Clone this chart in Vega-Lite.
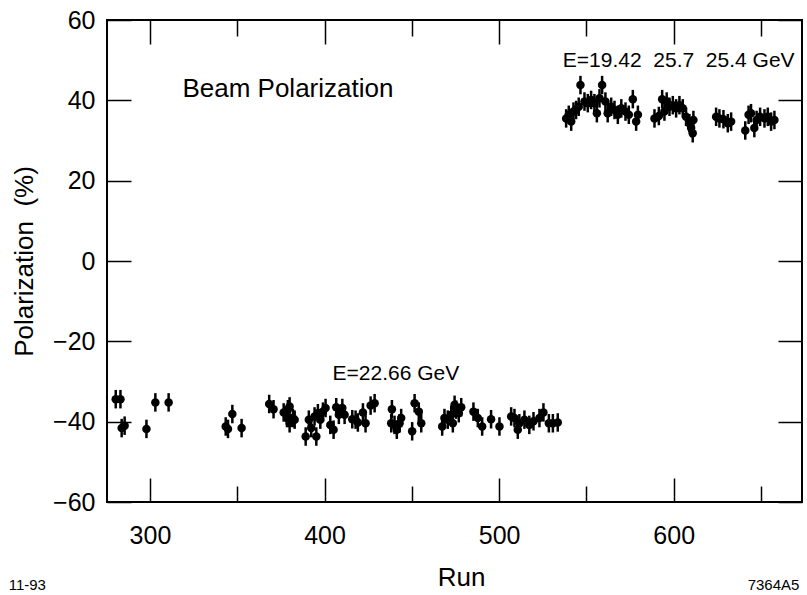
{
  "$schema": "https://vega.github.io/schema/vega-lite/v6.json",
  "width": 695,
  "height": 482,
  "autosize": {"type": "none"},
  "padding": {"left": 107, "top": 20, "right": 5, "bottom": 93},
  "background": "white",
  "config": {
    "view": {"stroke": "black", "strokeWidth": 2},
    "font": "Liberation Sans"
  },
  "datasets": {
    "pts": [
      {"run": 280.4, "pol": -34.4, "err": 2.3},
      {"run": 283.1, "pol": -34.4, "err": 2.3},
      {"run": 283.8, "pol": -41.6, "err": 2.3},
      {"run": 285.5, "pol": -41.0, "err": 2.3},
      {"run": 298.0, "pol": -41.8, "err": 2.3},
      {"run": 303.1, "pol": -35.2, "err": 2.3},
      {"run": 310.7, "pol": -35.2, "err": 2.3},
      {"run": 343.4, "pol": -41.2, "err": 2.3},
      {"run": 344.7, "pol": -41.8, "err": 2.3},
      {"run": 347.2, "pol": -38.1, "err": 2.3},
      {"run": 352.5, "pol": -41.6, "err": 2.3},
      {"run": 368.3, "pol": -35.6, "err": 2.3},
      {"run": 370.8, "pol": -36.9, "err": 2.3},
      {"run": 376.6, "pol": -37.7, "err": 2.3},
      {"run": 379.0, "pol": -36.9, "err": 2.3},
      {"run": 380.0, "pol": -36.2, "err": 2.3},
      {"run": 378.5, "pol": -39.1, "err": 2.3},
      {"run": 380.0, "pol": -40.4, "err": 2.3},
      {"run": 381.9, "pol": -39.1, "err": 2.3},
      {"run": 382.9, "pol": -39.5, "err": 2.3},
      {"run": 389.2, "pol": -43.7, "err": 2.3},
      {"run": 391.0, "pol": -39.5, "err": 2.3},
      {"run": 392.4, "pol": -41.6, "err": 2.3},
      {"run": 394.3, "pol": -38.7, "err": 2.3},
      {"run": 395.3, "pol": -43.7, "err": 2.3},
      {"run": 396.2, "pol": -37.9, "err": 2.3},
      {"run": 397.6, "pol": -39.5, "err": 2.3},
      {"run": 399.1, "pol": -37.5, "err": 2.3},
      {"run": 400.6, "pol": -36.6, "err": 2.3},
      {"run": 403.3, "pol": -40.8, "err": 2.3},
      {"run": 405.2, "pol": -42.0, "err": 2.3},
      {"run": 406.7, "pol": -36.4, "err": 2.3},
      {"run": 408.2, "pol": -38.3, "err": 2.3},
      {"run": 410.2, "pol": -36.6, "err": 2.3},
      {"run": 411.5, "pol": -38.3, "err": 2.3},
      {"run": 415.9, "pol": -39.4, "err": 2.3},
      {"run": 417.8, "pol": -39.5, "err": 2.3},
      {"run": 419.1, "pol": -40.2, "err": 2.3},
      {"run": 422.0, "pol": -37.7, "err": 2.3},
      {"run": 423.5, "pol": -40.4, "err": 2.3},
      {"run": 426.4, "pol": -36.0, "err": 2.3},
      {"run": 428.7, "pol": -35.4, "err": 2.3},
      {"run": 438.6, "pol": -36.9, "err": 2.3},
      {"run": 438.2, "pol": -40.4, "err": 2.3},
      {"run": 440.1, "pol": -40.8, "err": 2.3},
      {"run": 441.4, "pol": -42.0, "err": 2.3},
      {"run": 443.9, "pol": -39.1, "err": 2.3},
      {"run": 443.0, "pol": -40.4, "err": 2.3},
      {"run": 450.2, "pol": -42.4, "err": 2.3},
      {"run": 451.6, "pol": -35.4, "err": 2.3},
      {"run": 454.0, "pol": -37.5, "err": 2.3},
      {"run": 455.4, "pol": -40.4, "err": 2.3},
      {"run": 467.4, "pol": -41.2, "err": 2.3},
      {"run": 468.7, "pol": -39.1, "err": 2.3},
      {"run": 470.6, "pol": -39.5, "err": 2.3},
      {"run": 472.6, "pol": -38.3, "err": 2.3},
      {"run": 473.5, "pol": -40.4, "err": 2.3},
      {"run": 474.5, "pol": -35.8, "err": 2.3},
      {"run": 475.4, "pol": -37.0, "err": 2.3},
      {"run": 476.9, "pol": -37.9, "err": 2.3},
      {"run": 478.3, "pol": -36.4, "err": 2.3},
      {"run": 485.3, "pol": -37.5, "err": 2.3},
      {"run": 487.8, "pol": -39.1, "err": 2.3},
      {"run": 490.3, "pol": -41.2, "err": 2.3},
      {"run": 495.4, "pol": -39.4, "err": 2.3},
      {"run": 500.2, "pol": -41.2, "err": 2.3},
      {"run": 506.9, "pol": -38.7, "err": 2.3},
      {"run": 508.8, "pol": -39.1, "err": 2.3},
      {"run": 510.7, "pol": -42.0, "err": 2.3},
      {"run": 511.6, "pol": -40.4, "err": 2.3},
      {"run": 514.5, "pol": -39.5, "err": 2.3},
      {"run": 517.3, "pol": -40.8, "err": 2.3},
      {"run": 519.7, "pol": -39.9, "err": 2.3},
      {"run": 523.1, "pol": -39.1, "err": 2.3},
      {"run": 525.4, "pol": -37.7, "err": 2.3},
      {"run": 528.5, "pol": -40.4, "err": 2.3},
      {"run": 530.8, "pol": -40.4, "err": 2.3},
      {"run": 533.6, "pol": -40.2, "err": 2.3},
      {"run": 538.4, "pol": 35.5, "err": 2.3},
      {"run": 539.9, "pol": 36.4, "err": 2.3},
      {"run": 541.3, "pol": 34.7, "err": 2.3},
      {"run": 542.6, "pol": 37.2, "err": 2.3},
      {"run": 544.1, "pol": 37.6, "err": 2.3},
      {"run": 545.6, "pol": 38.4, "err": 2.3},
      {"run": 546.6, "pol": 43.8, "err": 2.3},
      {"run": 548.9, "pol": 39.7, "err": 2.3},
      {"run": 550.8, "pol": 39.3, "err": 2.3},
      {"run": 552.7, "pol": 40.1, "err": 2.3},
      {"run": 554.6, "pol": 39.3, "err": 2.3},
      {"run": 556.0, "pol": 36.8, "err": 2.3},
      {"run": 557.5, "pol": 40.5, "err": 2.3},
      {"run": 559.0, "pol": 43.8, "err": 2.3},
      {"run": 560.9, "pol": 39.7, "err": 2.3},
      {"run": 562.2, "pol": 36.8, "err": 2.3},
      {"run": 564.2, "pol": 38.4, "err": 2.3},
      {"run": 566.1, "pol": 37.6, "err": 2.3},
      {"run": 568.0, "pol": 36.4, "err": 2.3},
      {"run": 570.0, "pol": 38.0, "err": 2.3},
      {"run": 572.4, "pol": 37.2, "err": 2.3},
      {"run": 574.3, "pol": 36.4, "err": 2.3},
      {"run": 576.6, "pol": 40.3, "err": 2.3},
      {"run": 578.5, "pol": 34.7, "err": 2.3},
      {"run": 579.5, "pol": 36.4, "err": 2.3},
      {"run": 589.0, "pol": 35.5, "err": 2.3},
      {"run": 591.5, "pol": 36.1, "err": 2.3},
      {"run": 593.4, "pol": 40.3, "err": 2.3},
      {"run": 594.7, "pol": 37.2, "err": 2.3},
      {"run": 596.0, "pol": 39.7, "err": 2.3},
      {"run": 597.6, "pol": 38.4, "err": 2.3},
      {"run": 599.5, "pol": 38.8, "err": 2.3},
      {"run": 601.4, "pol": 38.0, "err": 2.3},
      {"run": 603.3, "pol": 38.8, "err": 2.3},
      {"run": 605.2, "pol": 38.0, "err": 2.3},
      {"run": 607.1, "pol": 35.9, "err": 2.3},
      {"run": 609.0, "pol": 34.3, "err": 2.3},
      {"run": 610.0, "pol": 33.1, "err": 2.3},
      {"run": 611.3, "pol": 35.1, "err": 2.3},
      {"run": 610.9, "pol": 31.8, "err": 2.3},
      {"run": 624.3, "pol": 35.9, "err": 2.3},
      {"run": 626.2, "pol": 35.5, "err": 2.3},
      {"run": 628.5, "pol": 35.3, "err": 2.3},
      {"run": 631.0, "pol": 34.3, "err": 2.3},
      {"run": 632.9, "pol": 34.7, "err": 2.3},
      {"run": 641.0, "pol": 32.5, "err": 2.3},
      {"run": 642.9, "pol": 36.4, "err": 2.3},
      {"run": 644.3, "pol": 36.8, "err": 2.3},
      {"run": 646.2, "pol": 33.1, "err": 2.3},
      {"run": 647.5, "pol": 35.1, "err": 2.3},
      {"run": 649.5, "pol": 35.9, "err": 2.3},
      {"run": 652.0, "pol": 35.5, "err": 2.3},
      {"run": 653.9, "pol": 35.9, "err": 2.3},
      {"run": 655.8, "pol": 34.7, "err": 2.3},
      {"run": 657.7, "pol": 35.1, "err": 2.3}
    ],
    "notesLeft": [
      {"run": 318.6, "pol": 40.9, "label": "Beam Polarization", "size": 26},
      {"run": 404.6, "pol": -29.6, "label": "E=22.66 GeV", "size": 21},
      {"run": 536.5, "pol": 48.2, "label": "E=19.42\u00a0\u00a025.7\u00a0\u00a025.4 GeV", "size": 21},
      {"run": 219.1, "pol": -81.8, "label": "11-93", "size": 15}
    ],
    "notesRight": [
      {"run": 672.0, "pol": -81.8, "label": "7364A5", "size": 15}
    ]
  },
  "layer": [
    {
      "data": {"name": "pts"},
      "mark": {"type": "errorbar", "rule": {"strokeWidth": 2.5, "color": "black"}},
      "encoding": {
        "x": {
          "field": "run", "type": "quantitative",
          "scale": {"domain": [275.4, 673.5], "nice": false, "zero": false},
          "axis": {
            "orient": "bottom",
            "values": [300, 350, 400, 450, 500, 550, 600, 650],
            "tickSize": {"condition": {"test": "datum.value % 100 === 0", "value": -24}, "value": -16},
            "tickColor": "black", "tickWidth": 1.5,
            "labelExpr": "datum.value % 100 === 0 ? datum.label : ''",
            "labelFont": "Liberation Sans", "labelFontSize": 25, "labelColor": "black",
            "labelPadding": 45, "labelFlush": false, "labelOverlap": false,
            "domain": false, "grid": false,
            "title": "Run", "titleFont": "Liberation Sans", "titleFontSize": 26,
            "titleFontWeight": "normal", "titleColor": "black",
            "titleX": 354, "titleY": 83, "titleBaseline": "alphabetic", "titleAlign": "center"
          }
        },
        "y": {
          "field": "pol", "type": "quantitative",
          "scale": {"domain": [-60, 60], "nice": false, "zero": false},
          "axis": {
            "orient": "left",
            "values": [-60, -40, -20, 0, 20, 40, 60],
            "tickSize": -24, "tickColor": "black", "tickWidth": 1.5,
            "labelFont": "Liberation Sans", "labelFontSize": 25, "labelColor": "black",
            "labelPadding": 36, "labelFlush": false, "labelOverlap": false,
            "domain": false, "grid": false,
            "title": "Polarization\u00a0\u00a0(%)", "titleFont": "Liberation Sans", "titleFontSize": 26,
            "titleFontWeight": "normal", "titleColor": "black",
            "titleX": -75, "titleY": 241, "titleAngle": -90, "titleBaseline": "alphabetic", "titleAlign": "center"
          }
        },
        "yError": {"field": "err"}
      }
    },
    {
      "data": {"name": "pts"},
      "mark": {"type": "circle", "color": "black", "opacity": 1, "size": 72},
      "encoding": {
        "x": {
          "field": "run", "type": "quantitative",
          "scale": {"domain": [275.4, 673.5], "nice": false, "zero": false},
          "axis": {
            "orient": "top",
            "values": [300, 350, 400, 450, 500, 550, 600, 650],
            "tickSize": {"condition": {"test": "datum.value % 100 === 0", "value": -24}, "value": -16},
            "tickColor": "black", "tickWidth": 1.5,
            "labels": false, "domain": false, "grid": false, "title": null
          }
        },
        "y": {
          "field": "pol", "type": "quantitative",
          "scale": {"domain": [-60, 60], "nice": false, "zero": false},
          "axis": {
            "orient": "right",
            "values": [-60, -40, -20, 0, 20, 40, 60],
            "tickSize": -24, "tickColor": "black", "tickWidth": 1.5,
            "labels": false, "domain": false, "grid": false, "title": null
          }
        }
      }
    },
    {
      "mark": {"type": "rule", "color": "black", "strokeWidth": 1.5},
      "encoding": {
        "y": {"datum": 0, "type": "quantitative", "scale": {"domain": [-60, 60], "nice": false, "zero": false}, "axis": null}
      }
    },
    {
      "data": {"name": "notesLeft"},
      "mark": {"type": "text", "color": "black", "font": "Liberation Sans", "baseline": "alphabetic", "align": "left"},
      "encoding": {
        "x": {"field": "run", "type": "quantitative", "scale": {"domain": [275.4, 673.5], "nice": false, "zero": false}, "axis": null},
        "y": {"field": "pol", "type": "quantitative", "scale": {"domain": [-60, 60], "nice": false, "zero": false}, "axis": null},
        "text": {"field": "label"},
        "size": {"field": "size", "type": "quantitative", "scale": null, "legend": null}
      }
    },
    {
      "data": {"name": "notesRight"},
      "mark": {"type": "text", "color": "black", "font": "Liberation Sans", "baseline": "alphabetic", "align": "right"},
      "encoding": {
        "x": {"field": "run", "type": "quantitative", "scale": {"domain": [275.4, 673.5], "nice": false, "zero": false}, "axis": null},
        "y": {"field": "pol", "type": "quantitative", "scale": {"domain": [-60, 60], "nice": false, "zero": false}, "axis": null},
        "text": {"field": "label"},
        "size": {"field": "size", "type": "quantitative", "scale": null, "legend": null}
      }
    }
  ],
  "resolve": {"axis": {"x": "independent", "y": "independent"}}
}
